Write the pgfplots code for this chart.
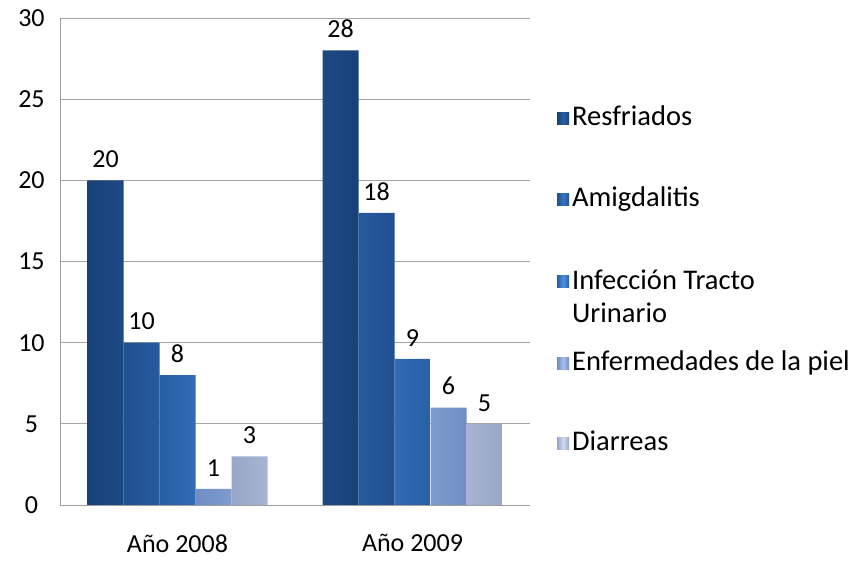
\documentclass[border=0pt]{standalone}
\usepackage{pgfplots}
\pgfplotsset{compat=1.18}
\usepackage{fontspec}
\setmainfont{Carlito}
\definecolor{aL}{RGB}{25,65,120}\definecolor{aM}{RGB}{42,94,162}
\definecolor{bL}{RGB}{32,80,145}\definecolor{bM}{RGB}{56,116,192}
\definecolor{cL}{RGB}{40,95,165}\definecolor{cM}{RGB}{78,142,222}
\definecolor{dL}{RGB}{112,142,196}\definecolor{dM}{RGB}{168,192,236}
\definecolor{eL}{RGB}{152,166,200}\definecolor{eM}{RGB}{208,218,241}
\newcommand{\fs}{\fontsize{26}{33}\selectfont}
\newcommand{\fl}{\fontsize{28.5}{33}\selectfont}
\pgfplotsset{
  sq/.style={legend image code/.code={\path[##1] (0pt,-8pt) rectangle (12pt,4pt);}}
}
\begin{document}
\begin{tikzpicture}
\begin{axis}[
  scale only axis, width=470pt, height=487pt,
  ymin=0, ymax=30, ytick={0,5,...,30},
  xmin=-0.5, xmax=1.5, xtick={0,1}, xticklabels={Año 2008, Año 2009},
  axis lines*=left, axis line style={draw=gray!75, -},
  ymajorgrids, grid style={gray!70, line width=0.8pt},
  major tick length=0pt,
  ybar=0pt, bar width=36pt,
  tick label style={font=\fs},
  /pgf/number format/assume math mode=true,
  yticklabel style={text width=30pt, align=center, xshift=-10pt},
  xticklabel style={yshift=-26pt},
  nodes near coords,
  nodes near coords style={font=\fs, black, yshift=9pt},
  every axis plot/.append style={draw=none},
  legend style={at={(1.0574,0.8193)}, anchor=north west, draw=none, fill=none,
    font=\fl, inner sep=0pt, row sep=59pt, column sep=3pt,
    nodes={inner sep=0pt}},
  legend cell align=left,
  sq,
  clip=false,
]
\addplot[left color=aL, right color=aL, middle color=aM] coordinates {(0,20) (1,28)};
\addplot[left color=bL, right color=bL, middle color=bM] coordinates {(0,10) (1,18)};
\addplot[left color=cL, right color=cL, middle color=cM] coordinates {(0,8) (1,9)};
\addplot[left color=dL, right color=dL, middle color=dM] coordinates {(0,1) (1,6)};
\addplot[left color=eL, right color=eL, middle color=eM] coordinates {(0,3) (1,5)};
\addlegendentry{Resfriados}
\addlegendentry{Amigdalitis}
\addlegendentry{\begin{tabular}[t]{@{}l@{}}Infección Tracto\\Urinario\end{tabular}}
\addlegendentry{Enfermedades de la piel}
\addlegendentry{Diarreas}
\end{axis}
\pgfresetboundingbox
\path[use as bounding box] ([shift={(-60pt,-58pt)}]current axis.south west) rectangle ([shift={(329pt,18pt)}]current axis.north east);
\end{tikzpicture}
\end{document}
